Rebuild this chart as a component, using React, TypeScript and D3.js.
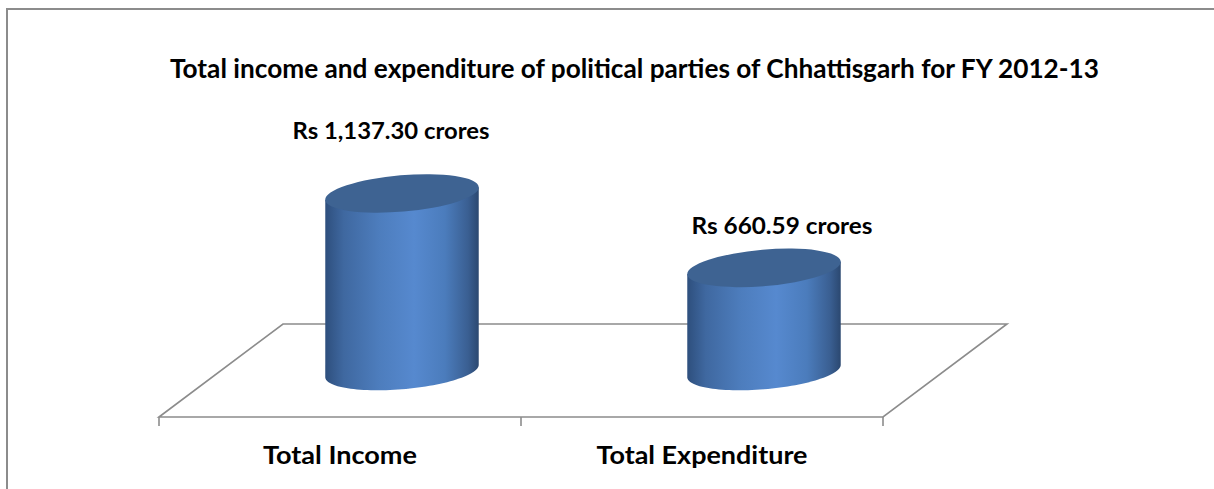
import React from "react";
import * as d3 from "d3";

const title = "Total income and expenditure of political parties of Chhattisgarh for FY 2012-13";
const categories = ["Total Income", "Total Expenditure"];
const values = [1137.3, 660.59];
const valueLabels = ["Rs 1,137.30 crores", "Rs 660.59 crores"];
const yDomain = [0, 1200];

const FONT = "Lato, 'Open Sans', sans-serif";

export default function App() {
  // floor (mid-depth line) geometry
  const floorX0 = 221, floorX1 = 945, floorMidY = 370.5;
  const depthDx = 62, depthDy = 46.5;
  const x = d3.scaleBand().domain(categories).range([floorX0, floorX1]);
  const y = d3.scaleLinear().domain(yDomain).range([371, 183.7]);

  const a = 77, b = 18.2, thetaDeg = -4.9;
  const th = (thetaDeg * Math.PI) / 180;
  const pt = (cx: number, cy: number, t: number): [number, number] => [
    cx + a * Math.cos(t) * Math.cos(th) - b * Math.sin(t) * Math.sin(th),
    cy + a * Math.cos(t) * Math.sin(th) + b * Math.sin(t) * Math.cos(th),
  ];
  const tR = Math.atan2(-b * Math.sin(th), a * Math.cos(th));

  const bodyPath = (cx: number, yTop: number, yBot: number) => {
    const pts: [number, number][] = [];
    pts.push(pt(cx, yTop, tR));
    const n = 60;
    for (let i = 0; i <= n; i++) pts.push(pt(cx, yBot, tR + (Math.PI * i) / n));
    pts.push(pt(cx, yTop, tR + Math.PI));
    return d3.line()(pts) + "Z";
  };

  const front = (px: number, py: number): [number, number] => [px - depthDx, py + depthDy];
  const back = (px: number, py: number): [number, number] => [px + depthDx, py - depthDy];
  const fl = front(floorX0, floorMidY), fr = front(floorX1, floorMidY);
  const bl = back(floorX0, floorMidY), br = back(floorX1, floorMidY);
  const ticks = [floorX0, floorX0 + x.bandwidth(), floorX1].map((v) => front(v, floorMidY));

  const labelDx = [-11, 18];
  const labelGap = [35, 15];
  const labelLen = [197, 181];
  const catLen = [154, 211];

  const grey = "#8c8c8c";

  return (
    <svg
      width={1214}
      height={489}
      style={{ position: "absolute", left: 0, top: 0, background: "#fff" }}
    >
      <defs>
        <linearGradient id="body" x1="0" x2="1" y1="0" y2="0">
          <stop offset="0%" stopColor="#2e4f7d" />
          <stop offset="12%" stopColor="#3f68a0" />
          <stop offset="35%" stopColor="#4d7dbd" />
          <stop offset="58%" stopColor="#5689cf" />
          <stop offset="78%" stopColor="#4b7cbc" />
          <stop offset="93%" stopColor="#3a5f92" />
          <stop offset="100%" stopColor="#2b4870" />
        </linearGradient>
      </defs>
      <rect x={7} y={9} width={1230} height={500} fill="none" stroke={grey} strokeWidth={2} />

      <text x={170} y={78} fontFamily={FONT} fontWeight={700} fontSize={26} textLength={929} lengthAdjust="spacingAndGlyphs" fill="#000">
        {title}
      </text>

      {/* floor */}
      <path
        d={d3.line()([fl, bl, br, fr]) + "Z"}
        fill="none"
        stroke={grey}
        strokeWidth={1.6}
        strokeLinejoin="miter"
      />
      {ticks.map((t, i) => (
        <line key={i} x1={t[0]} x2={t[0]} y1={t[1]} y2={t[1] + 9} stroke={grey} strokeWidth={1.6} />
      ))}

      {categories.map((c, i) => {
        const cx = (x(c) as number) + x.bandwidth() / 2;
        const yTop = y(values[i]);
        const yBot = y(0);
        const capTop = yTop - Math.sqrt(a * a * Math.sin(th) ** 2 + b * b * Math.cos(th) ** 2);
        const fc = front(cx, floorMidY);
        return (
          <g key={c}>
            <path d={bodyPath(cx, yTop, yBot)} fill="url(#body)" />
            <ellipse
              cx={cx}
              cy={yTop}
              rx={a}
              ry={b}
              fill="#3e6392"
              transform={`rotate(${thetaDeg} ${cx} ${yTop})`}
            />
            <text
              x={cx + labelDx[i] - labelLen[i] / 2}
              y={capTop - labelGap[i]}
              fontFamily={FONT}
              fontWeight={700}
              fontSize={22}
              textLength={labelLen[i]}
              lengthAdjust="spacingAndGlyphs"
              fill="#000"
            >
              {valueLabels[i]}
            </text>
            <text
              x={fc[0] - catLen[i] / 2}
              y={464}
              fontFamily={FONT}
              fontWeight={700}
              fontSize={24}
              textLength={catLen[i]}
              lengthAdjust="spacingAndGlyphs"
              fill="#000"
            >
              {c}
            </text>
          </g>
        );
      })}
    </svg>
  );
}
